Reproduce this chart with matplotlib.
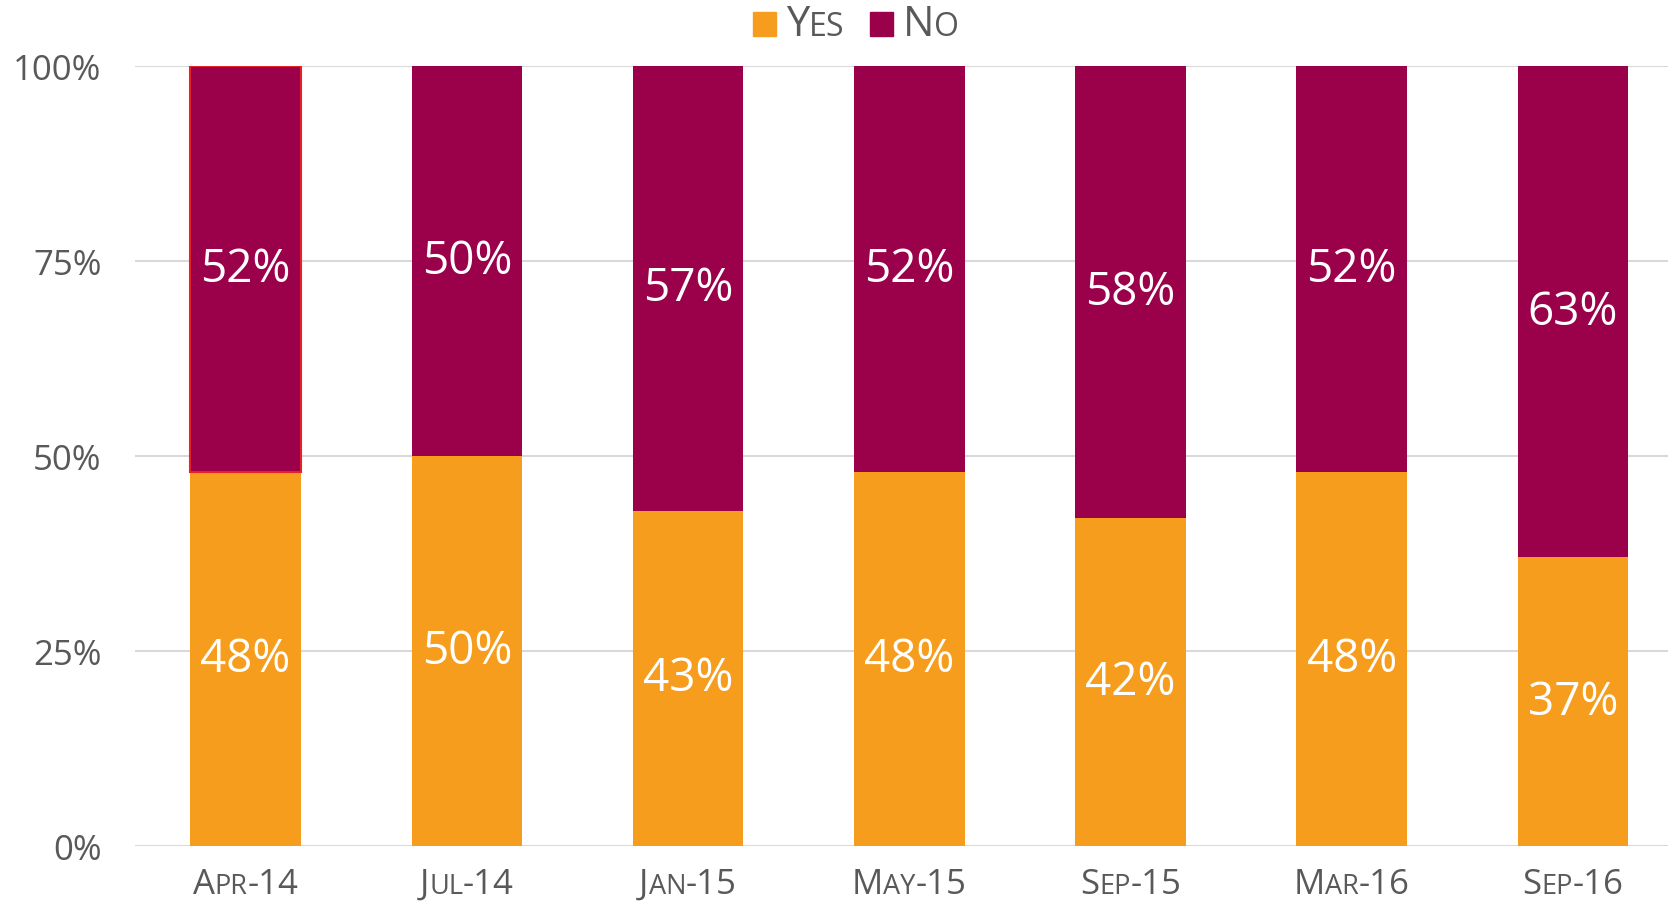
import matplotlib.pyplot as plt
from matplotlib.offsetbox import TextArea, HPacker, AnnotationBbox, DrawingArea, AnchoredOffsetbox
from matplotlib.patches import Rectangle
import numpy as np

# survey answers per wave
categories = ['Apr-14', 'Jul-14', 'Jan-15', 'May-15', 'Sep-15', 'Mar-16', 'Sep-16']
yes = [48, 50, 43, 48, 42, 48, 37]
no = [52, 50, 57, 52, 58, 52, 63]

YES_COLOR = '#F79D1E'
NO_COLOR = '#9B004B'
TEXT = '#595959'
GRID = '#D9D9D9'

plt.rcParams['font.family'] = ['Open Sans', 'DejaVu Sans']

fig = plt.figure(figsize=(16.68, 9.04), dpi=100)
ax = fig.add_axes([135 / 1668, 57 / 904, 1 - 135 / 1668, 780 / 904])

x = np.arange(len(categories))
ax.bar(x, yes, width=0.5, color=YES_COLOR, zorder=3)
no_bars = ax.bar(x, no, bottom=yes, width=0.5, color=NO_COLOR, zorder=3)
# first wave is highlighted with a red outline
no_bars[0].set_edgecolor('#E8202A')
no_bars[0].set_linewidth(1.5)

for i in range(len(x)):
    ax.text(x[i], yes[i] / 2, f'{yes[i]}%', ha='center', va='center',
            color='white', fontsize=33, zorder=4)
    ax.text(x[i], yes[i] + no[i] / 2, f'{no[i]}%', ha='center', va='center',
            color='white', fontsize=33, zorder=4)

ax.set_xlim(-0.5, 6.43)
ax.set_ylim(0, 100)
ax.set_yticks([0, 25, 50, 75, 100])
ax.set_yticklabels([f'{v}%' for v in [0, 25, 50, 75, 100]])
ax.tick_params(axis='y', length=0, pad=24, labelsize=25, labelcolor=TEXT)
ax.set_xticks([])
ax.grid(axis='y', color=GRID, linewidth=1.5, zorder=0)
for s in ax.spines.values():
    s.set_visible(False)

BIG = 25
SMALL = 19.5


def small_caps(word, big, small):
    # first letter full size, rest of the month in smaller capitals
    parts = [TextArea(word[0], textprops=dict(fontsize=big, color=TEXT))]
    month, rest = word.split('-')
    parts.append(TextArea(month[1:].upper(), textprops=dict(fontsize=small, color=TEXT)))
    if rest:
        parts.append(TextArea('-' + rest, textprops=dict(fontsize=big, color=TEXT)))
    return HPacker(children=parts, align='baseline', pad=0, sep=0)


for i, c in enumerate(categories):
    box = small_caps(c, BIG, SMALL)
    ab = AnnotationBbox(box, (x[i], 0), xybox=(0, -15), xycoords='data',
                        boxcoords='offset points', box_alignment=(0.5, 1),
                        frameon=False, annotation_clip=False)
    ax.add_artist(ab)


def legend_item(color, first, rest):
    da = DrawingArea(17, 17, 0, 0)
    da.add_artist(Rectangle((0, 0), 17, 17, color=color))
    t1 = TextArea(first, textprops=dict(fontsize=30, color=TEXT))
    t2 = TextArea(rest, textprops=dict(fontsize=23, color=TEXT))
    txt = HPacker(children=[t1, t2], align='baseline', pad=0, sep=0)
    return HPacker(children=[da, txt], align='center', pad=0, sep=7)


legend = HPacker(children=[legend_item(YES_COLOR, 'Y', 'ES'),
                           legend_item(NO_COLOR, 'N', 'O')],
                 align='center', pad=0, sep=18)
anchored = AnchoredOffsetbox(loc='center', child=legend, frameon=False,
                             bbox_to_anchor=(856 / 1668, 1 - 25 / 904),
                             bbox_transform=fig.transFigure, pad=0, borderpad=0)
fig.add_artist(anchored)

fig.savefig('out.png', dpi=100)
